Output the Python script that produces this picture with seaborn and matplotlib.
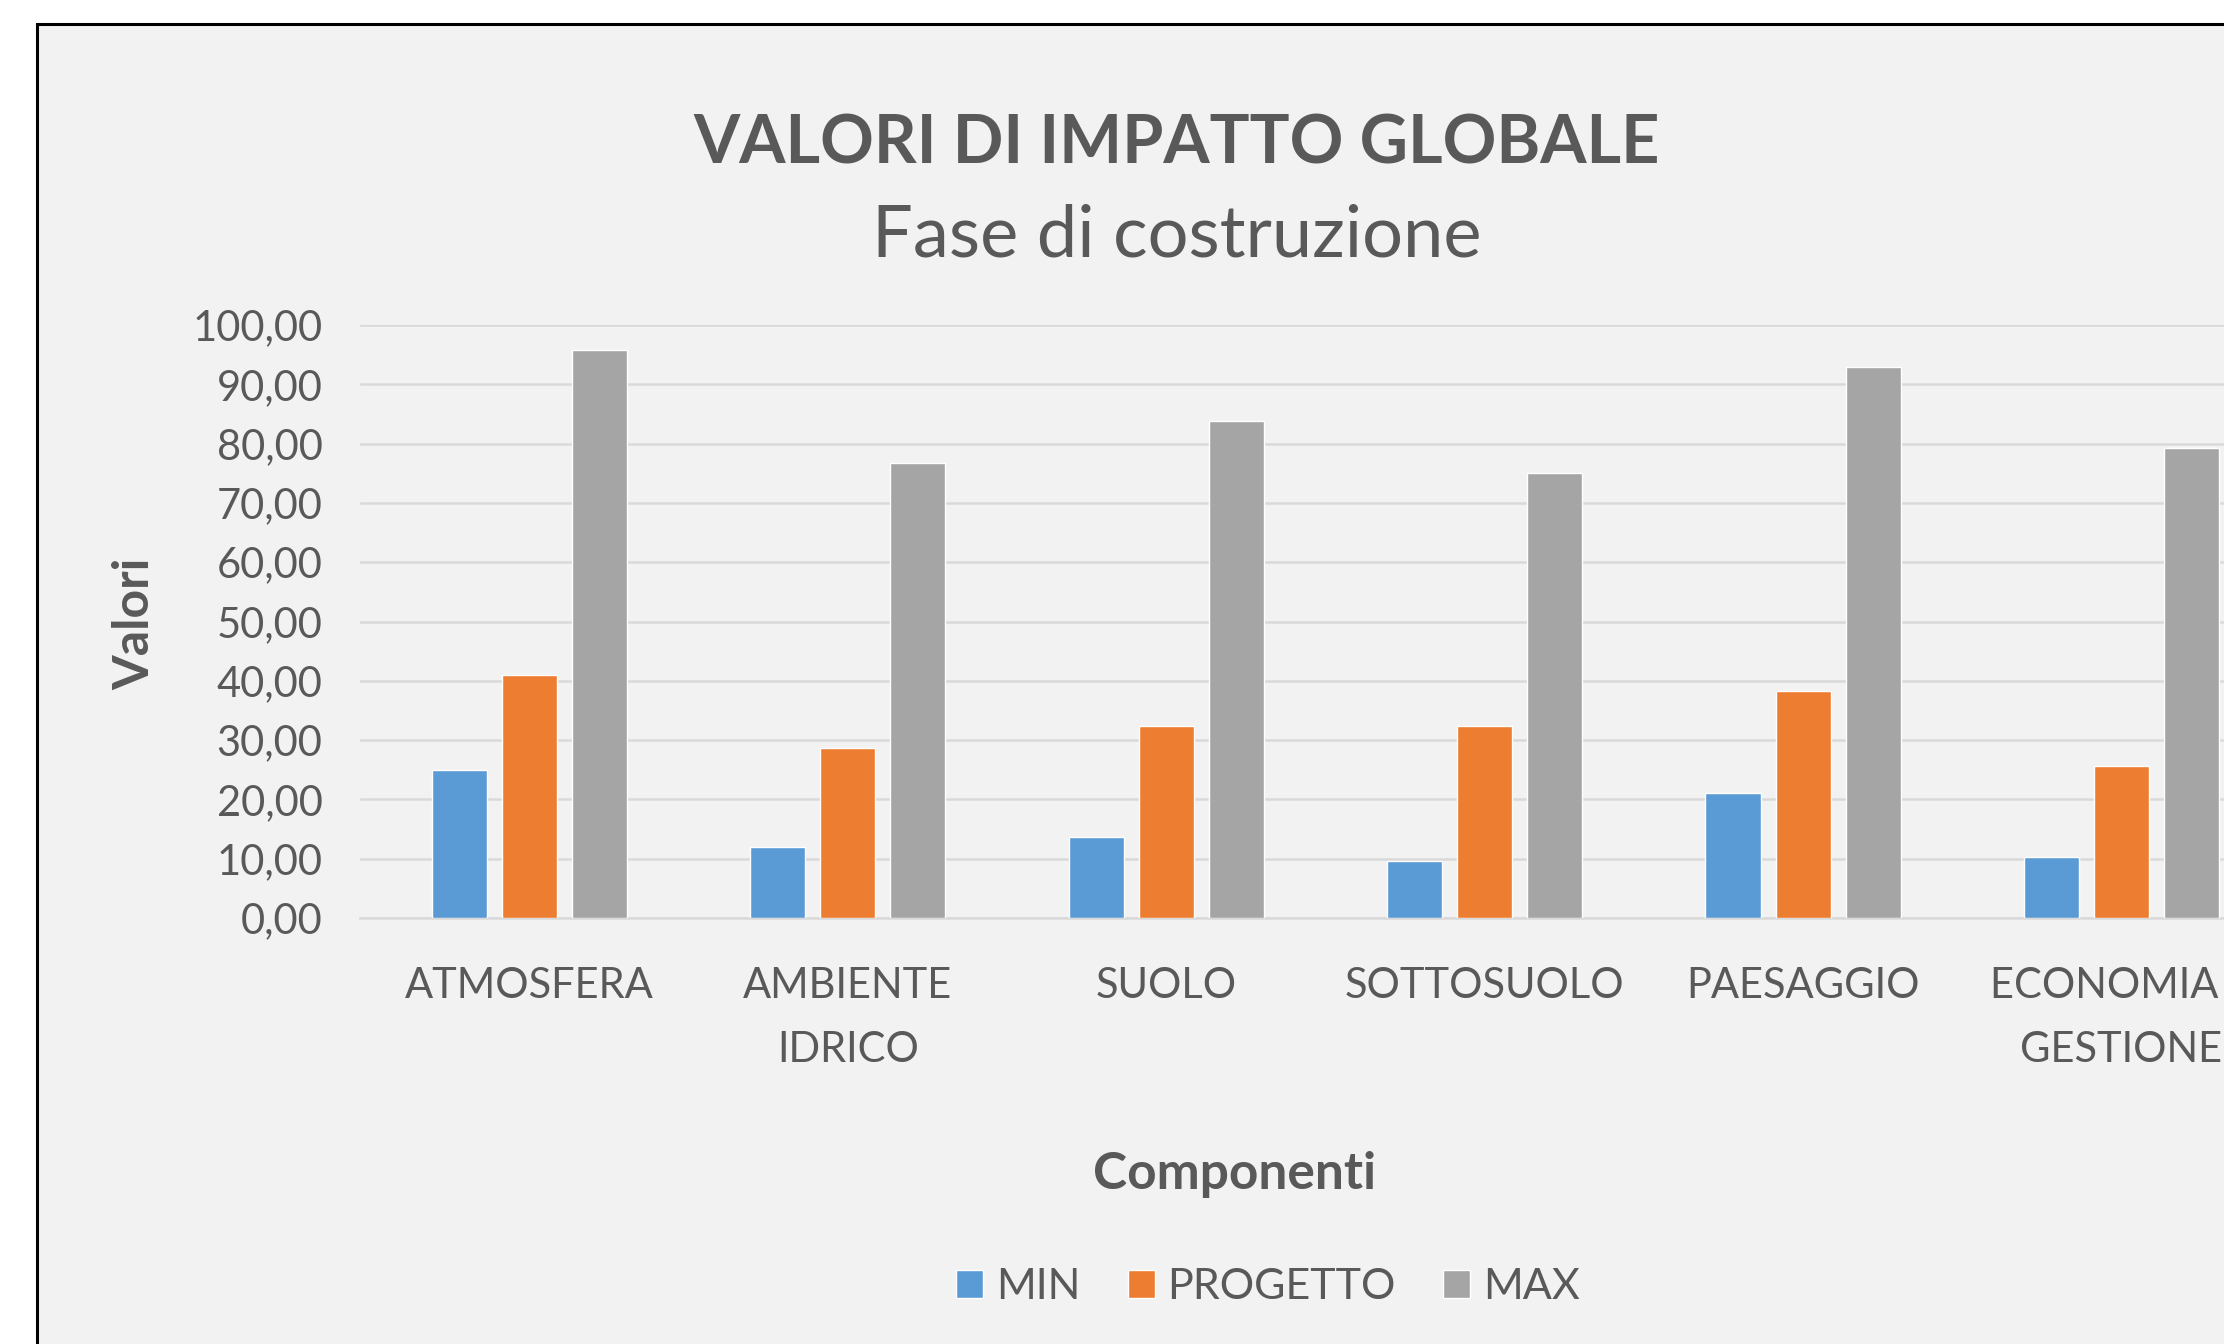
import pandas as pd
import numpy as np
import matplotlib
matplotlib.use('Agg')
import matplotlib.pyplot as plt
import seaborn as sns
from matplotlib.patches import Rectangle
from matplotlib.ticker import FuncFormatter

# Dati

componenti = ['ATMOSFERA', 'AMBIENTE\nIDRICO', 'SUOLO', 'SOTTOSUOLO', 'PAESAGGIO', 'ECONOMIA E\nGESTIONE']
val_min = [25.0, 11.9, 13.7, 9.6, 21.1, 10.3]
val_progetto = [41.0, 28.6, 32.4, 32.4, 38.3, 25.7]
val_max = [95.7, 76.8, 83.8, 75.1, 92.9, 79.3]
serie = ['MIN', 'PROGETTO', 'MAX']
colori = ['#5B9BD5', '#ED7D31', '#A5A5A5']

df = pd.DataFrame({'Componenti': componenti, 'MIN': val_min,
                   'PROGETTO': val_progetto, 'MAX': val_max})
df_long = df.melt(id_vars='Componenti', value_vars=serie, var_name='Serie', value_name='Valori')

sns.set_style('white')
plt.rcParams['font.family'] = ['Lato', 'DejaVu Sans']
testo = '#595959'

fig = plt.figure(figsize=(22.24, 13.44), dpi=100)
fig.patch.set_facecolor('white')

# Area del grafico (tagliata a destra e in basso)
fig.patches.append(Rectangle((37 / 2224, -0.05), 1.2, 1.05 - 24 / 1344,
                             transform=fig.transFigure, facecolor='#f2f2f2',
                             edgecolor='black', linewidth=2.2, zorder=-5))

ax = fig.add_axes([360 / 2224, 1 - 918 / 1344, 1 - 360 / 2224, 593 / 1344])
ax.set_facecolor('none')
ax.set_zorder(2)

sns.barplot(data=df_long, x='Componenti', y='Valori', hue='Serie', hue_order=serie,
            palette=colori, saturation=1, width=0.66, gap=0.214, ax=ax, zorder=3)

ax.set_xlim(-0.532, 5.322)
ax.set_ylim(0, 100)
ax.set_yticks(np.arange(0, 101, 10))
ax.yaxis.set_major_formatter(FuncFormatter(lambda v, p: f'{v:.2f}'.replace('.', ',')))
ax.grid(axis='y', color='#d9d9d9', linewidth=1.8)
ax.set_axisbelow(True)
for s in ['top', 'right', 'left']:
    ax.spines[s].set_visible(False)
ax.spines['bottom'].set_color('#d9d9d9')
ax.spines['bottom'].set_linewidth(1.8)
ax.tick_params(axis='both', length=0, labelcolor=testo)
ax.yaxis.set_tick_params(which='major', pad=27, labelsize=30)
ax.xaxis.set_tick_params(which='major', pad=35, labelsize=30)
for lab in ax.get_xticklabels():
    lab.set_linespacing(1.84)
ax.set_xlabel('')
ax.set_ylabel('')

# Titoli
fig.text(1177 / 2224, 1 - 145 / 1344, 'VALORI DI IMPATTO GLOBALE', ha='center', va='center',
         fontsize=48, fontweight='bold', color=testo)
fig.text(1177 / 2224, 1 - 236 / 1344, 'Fase di costruzione', ha='center', va='center',
         fontsize=52, color=testo)
fig.text(135 / 2224, 1 - 624 / 1344, 'Valori', ha='center', va='center', rotation=90,
         fontsize=36, fontweight='bold', color=testo)
fig.text(1235 / 2224, 1 - 1174 / 1344, 'Componenti', ha='center', va='center',
         fontsize=37, fontweight='bold', color=testo)

handles, labels = ax.get_legend_handles_labels()
ax.legend(handles, labels, loc='center', bbox_to_anchor=(1268 / 2224, 1 - 1287 / 1344),
          bbox_transform=fig.transFigure, ncol=3, frameon=False, fontsize=31,
          handlelength=0.62, handleheight=0.62, handletextpad=0.3, columnspacing=1.1,
          labelcolor=testo)

fig.savefig('out.png', dpi=100)
